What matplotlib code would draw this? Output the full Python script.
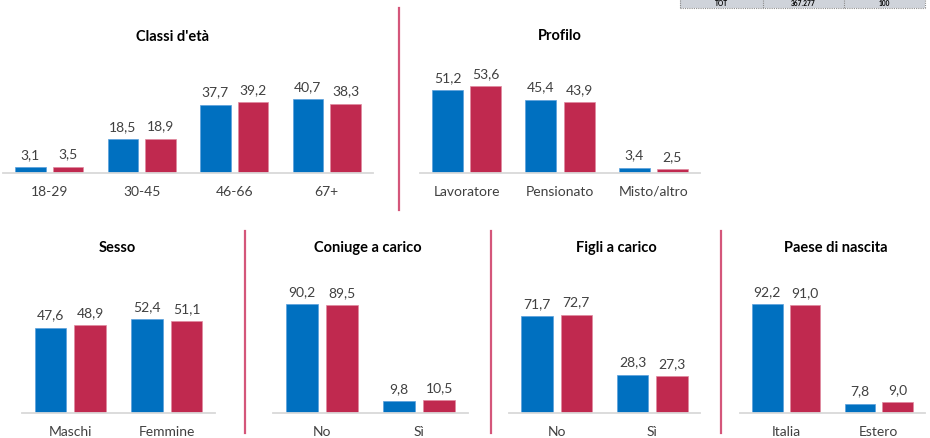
import matplotlib
matplotlib.use("Agg")
import matplotlib.pyplot as plt
from matplotlib.patches import Rectangle
from matplotlib.lines import Line2D

plt.rcParams['font.family'] = ['Lato', 'DejaVu Sans']

# data
eta_cats = ['18-29', '30-45', '46-66', '67+']
eta_blue = [3.1, 18.5, 37.7, 40.7]
eta_red = [3.5, 18.9, 39.2, 38.3]

profilo_cats = ['Lavoratore', 'Pensionato', 'Misto/altro']
profilo_blue = [51.2, 45.4, 3.4]
profilo_red = [53.6, 43.9, 2.5]

sesso_cats = ['Maschi', 'Femmine']
sesso_blue = [47.6, 52.4]
sesso_red = [48.9, 51.1]

coniuge_cats = ['No', 'Sì']
coniuge_blue = [90.2, 9.8]
coniuge_red = [89.5, 10.5]

figli_cats = ['No', 'Sì']
figli_blue = [71.7, 28.3]
figli_red = [72.7, 27.3]

paese_cats = ['Italia', 'Estero']
paese_blue = [92.2, 7.8]
paese_red = [91.0, 9.0]

tot_cells = ['TOT', '367.277', '100']

BLUE = '#0070c0'
RED = '#c0294f'
DIV = '#d4567a'
W, H = 930, 438

fig = plt.figure(figsize=(W / 100, H / 100), dpi=100)


def px_axes(x0, x1, y_top, y_base):
    return fig.add_axes([x0 / W, 1 - y_base / H, (x1 - x0) / W, (y_base - y_top) / H])


def panel(x0, x1, y_top, y_base, ymax, cats, blue, red, title, title_xy):
    ax = px_axes(x0, x1, y_top, y_base)
    xs = list(range(len(cats)))
    bw, off = 0.33, 0.205
    b1 = ax.bar([x - off for x in xs], blue, bw, color=BLUE, edgecolor='#5aa0dc', linewidth=0.5)
    b2 = ax.bar([x + off for x in xs], red, bw, color=RED, edgecolor='#e08aa0', linewidth=0.5)
    for bars, vals in ((b1, blue), (b2, red)):
        for b, v in zip(bars, vals):
            ax.annotate(f"{v:.1f}".replace('.', ','),
                        xy=(b.get_x() + b.get_width() / 2, v),
                        xytext=(0, 4.5), textcoords='offset points',
                        ha='center', va='bottom', fontsize=10, color='#404040')
    ax.set_xlim(-0.5, len(cats) - 0.5)
    ax.set_ylim(0, ymax)
    ax.set_xticks(xs)
    ax.set_xticklabels(cats, fontsize=10, color='#404040')
    ax.tick_params(axis='x', length=0, pad=9)
    ax.set_yticks([])
    for s in ('top', 'left', 'right'):
        ax.spines[s].set_visible(False)
    ax.spines['bottom'].set_color('#d9d9d9')
    ax.spines['bottom'].set_linewidth(1.3)
    ax.patch.set_alpha(0)
    fig.text(title_xy[0] / W, 1 - title_xy[1] / H, title, ha='center', va='center',
             fontsize=10.5, fontweight='bold', color='black')
    return ax


panel(3, 373, 60, 173, 62.4, eta_cats, eta_blue, eta_red, "Classi d'età", (172, 37))
panel(420, 700, 60, 173, 70.0, profilo_cats, profilo_blue, profilo_red, 'Profilo', (560, 36))
panel(22, 215, 290, 413, 68.5, sesso_cats, sesso_blue, sesso_red, 'Sesso', (117, 248))
panel(273, 468, 290, 413, 102.0, coniuge_cats, coniuge_blue, coniuge_red, 'Coniuge a carico', (368, 248))
panel(509, 700, 290, 413, 91.0, figli_cats, figli_blue, figli_red, 'Figli a carico', (616, 248))
panel(740, 925, 290, 413, 104.0, paese_cats, paese_blue, paese_red, 'Paese di nascita', (836, 248))

# separators
for x, y0, y1 in [(399, 8, 210), (245, 231, 433), (491, 231, 433), (721, 231, 433)]:
    fig.add_artist(Line2D([x / W, x / W], [1 - y0 / H, 1 - y1 / H], color=DIV, lw=1.6))

# total table strip at top right
edges = [680, 763, 844, 925]
fig.add_artist(Rectangle((edges[0] / W, 1 - 7.5 / H), (edges[-1] - edges[0]) / W, 10 / H,
                         facecolor='#cfd3da', edgecolor='none'))
fig.add_artist(Line2D([edges[0] / W, edges[-1] / W], [1 - 7.5 / H] * 2, color='#8c8c8c',
                      lw=0.8, ls=(0, (1, 1))))
for x in edges:
    fig.add_artist(Line2D([x / W, x / W], [1, 1 - 7.5 / H], color='#8c8c8c', lw=0.8, ls=(0, (1, 1))))
for i, t in enumerate(tot_cells):
    cx = (edges[i] + edges[i + 1]) / 2
    fig.text(cx / W, 1 - 3.6 / H, t, ha='center', va='center', fontsize=4.8,
             fontweight='bold', color='black')

fig.savefig('out.png', dpi=100)
